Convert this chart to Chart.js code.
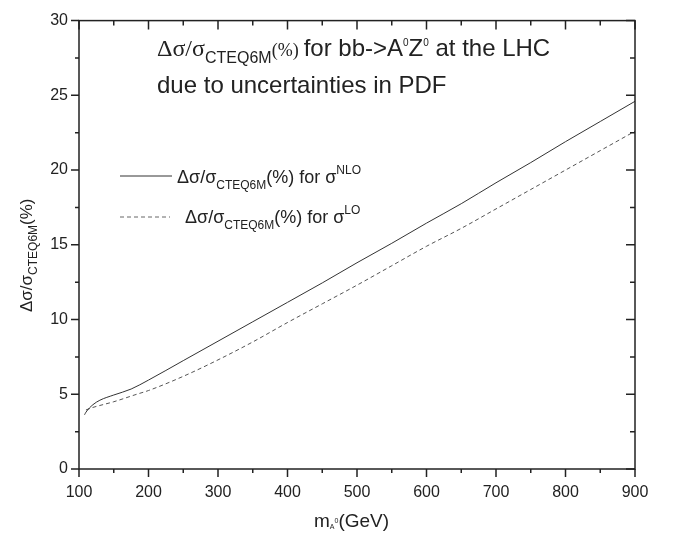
<!DOCTYPE html>
<html>
<head>
<meta charset="utf-8">
<script src="https://cdn.jsdelivr.net/npm/chart.js@4.4.0/dist/chart.umd.min.js"></script>
<style>
  html, body { margin: 0; padding: 0; background: #fff; }
</style>
</head>
<body>
<canvas id="chart" width="673" height="536"></canvas>
<script>
// values
const massNLO = [108, 110, 120, 130, 150, 175, 200, 250, 300, 350, 400, 450, 500, 550, 600, 650, 700, 750, 800, 850, 900];
const sigmaNLO = [3.63, 3.8, 4.3, 4.6, 4.95, 5.35, 5.95, 7.25, 8.55, 9.85, 11.15, 12.45, 13.8, 15.1, 16.45, 17.75, 19.15, 20.5, 21.9, 23.25, 24.6];
const massLO = [110, 120, 130, 150, 183, 200, 250, 300, 350, 400, 450, 500, 550, 600, 650, 700, 750, 800, 850, 900];
const sigmaLO = [3.95, 4.12, 4.25, 4.5, 5.0, 5.25, 6.2, 7.3, 8.5, 9.8, 11.05, 12.3, 13.6, 14.9, 16.1, 17.4, 18.7, 20.0, 21.3, 22.6];
const xTicks = [100, 200, 300, 400, 500, 600, 700, 800, 900];
const yTicks = [0, 5, 10, 15, 20, 25, 30];

const INK = "#222";
const SANS = "Liberation Sans, Arial, sans-serif";
const SERIF = "Liberation Serif, Times New Roman, serif";

function pts(xs, ys) {
    return xs.map((x, i) => ({ x: x, y: ys[i] }));
}

// draws a run of text pieces, each with its own font and vertical shift
function drawRich(ctx, x, y, parts) {
    let cx = x;
    parts.forEach(p => {
        ctx.font = p.font;
        ctx.fillText(p.t, cx, y + (p.dy || 0));
        cx += ctx.measureText(p.t).width + (p.gap || 0);
    });
    return cx;
}

const frame = {
    id: "frame",
    afterDraw(chart) {
        const ctx = chart.ctx;
        const a = chart.chartArea;
        const xs = chart.scales.x;
        const ys = chart.scales.y;
        ctx.save();
        ctx.strokeStyle = INK;
        ctx.lineWidth = 1.5;
        ctx.strokeRect(a.left, a.top, a.right - a.left, a.bottom - a.top);

        // ticks: outward on bottom/left, inward on top/right
        ctx.beginPath();
        for (let v = 100; v <= 900; v += 50) {
            const px = xs.getPixelForValue(v);
            const len = v % 100 === 0 ? 8 : 4;
            ctx.moveTo(px, a.bottom); ctx.lineTo(px, a.bottom + len);
            ctx.moveTo(px, a.top); ctx.lineTo(px, a.top + len + 1);
        }
        for (let v = 0; v <= 30; v += 2.5) {
            const py = ys.getPixelForValue(v);
            const len = v % 5 === 0 ? 8 : 4;
            ctx.moveTo(a.left, py); ctx.lineTo(a.left - len, py);
            ctx.moveTo(a.right, py); ctx.lineTo(a.right - len - 1, py);
        }
        ctx.stroke();

        ctx.fillStyle = INK;
        ctx.textBaseline = "alphabetic";
        ctx.textAlign = "left";

        // title block
        drawRich(ctx, 157, 56, [
            { t: "\u0394\u03c3/\u03c3", font: "24px " + SERIF },
            { t: "CTEQ6M", font: "16px " + SANS, dy: 7 },
            { t: "(%)", font: "18px " + SERIF, gap: 5 },
            { t: "for bb->A", font: "24px " + SANS },
            { t: "0", font: "10px " + SANS, dy: -10 },
            { t: "Z", font: "24px " + SANS },
            { t: "0", font: "10px " + SANS, dy: -10 },
            { t: " at the LHC", font: "24px " + SANS }
        ]);
        drawRich(ctx, 157, 93, [
            { t: "due to uncertainties in PDF", font: "24px " + SANS }
        ]);

        // legend
        ctx.lineWidth = 1;
        ctx.strokeStyle = "#333";
        ctx.beginPath();
        ctx.moveTo(120, 176); ctx.lineTo(172, 176);
        ctx.stroke();
        ctx.strokeStyle = "#666";
        ctx.setLineDash([4, 3]);
        ctx.beginPath();
        ctx.moveTo(120, 217); ctx.lineTo(170, 217);
        ctx.stroke();
        ctx.setLineDash([]);

        drawRich(ctx, 177, 183, [
            { t: "\u0394\u03c3/\u03c3", font: "18px " + SANS },
            { t: "CTEQ6M", font: "12px " + SANS, dy: 6 },
            { t: "(%) for \u03c3", font: "18px " + SANS },
            { t: "NLO", font: "12px " + SANS, dy: -9 }
        ]);
        drawRich(ctx, 185, 223, [
            { t: "\u0394\u03c3/\u03c3", font: "18px " + SANS },
            { t: "CTEQ6M", font: "12px " + SANS, dy: 6 },
            { t: "(%) for \u03c3", font: "18px " + SANS },
            { t: "LO", font: "12px " + SANS, dy: -9 }
        ]);

        // x axis title
        drawRich(ctx, 314, 527, [
            { t: "m", font: "19px " + SANS },
            { t: "A", font: "7px " + SANS, dy: 2 },
            { t: "0", font: "7px " + SANS, dy: -4 },
            { t: "(GeV)", font: "19px " + SANS }
        ]);

        // y axis title, rotated
        ctx.translate(32, 312);
        ctx.rotate(-Math.PI / 2);
        drawRich(ctx, 0, 0, [
            { t: "\u0394\u03c3/\u03c3", font: "17px " + SANS },
            { t: "CTEQ6M", font: "12px " + SANS, dy: 5 },
            { t: "(%)", font: "17px " + SANS }
        ]);
        ctx.restore();
    }
};

new Chart(document.getElementById("chart"), {
    type: "line",
    data: {
        datasets: [
            {
                label: "NLO",
                data: pts(massNLO, sigmaNLO),
                borderColor: "#333",
                borderWidth: 1,
                pointRadius: 0,
                cubicInterpolationMode: "monotone"
            },
            {
                label: "LO",
                data: pts(massLO, sigmaLO),
                borderColor: "#555",
                borderWidth: 1,
                borderDash: [4, 3],
                pointRadius: 0,
                cubicInterpolationMode: "monotone"
            }
        ]
    },
    options: {
        responsive: false,
        animation: false,
        layout: { padding: { left: 0, top: 15, right: 38, bottom: 0 } },
        plugins: {
            legend: { display: false },
            title: { display: false },
            tooltip: { enabled: false }
        },
        scales: {
            x: {
                type: "linear",
                min: 100,
                max: 900,
                afterBuildTicks: s => { s.ticks = xTicks.map(v => ({ value: v })); },
                afterFit: s => { s.height = 67; },
                grid: { display: false, drawTicks: false },
                border: { display: false },
                ticks: { padding: 14, color: INK, font: { family: SANS, size: 16 } }
            },
            y: {
                min: 0,
                max: 30,
                afterBuildTicks: s => { s.ticks = yTicks.map(v => ({ value: v })); },
                afterFit: s => { s.width = 79; },
                grid: { display: false, drawTicks: false },
                border: { display: false },
                ticks: { padding: 11, color: INK, font: { family: SANS, size: 16 } }
            }
        }
    },
    plugins: [frame]
});
</script>
</body>
</html>
